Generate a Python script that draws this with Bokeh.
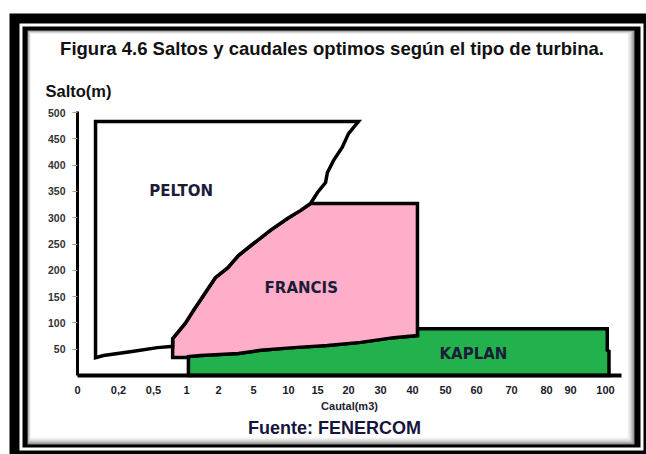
import numpy as np
from bokeh.plotting import figure
from bokeh.models import Range1d, FixedTicker, ColumnDataSource
from bokeh.core.properties import value
from bokeh.embed import file_html
from bokeh.resources import INLINE

# ---------------- texts ----------------
title_text = "Figura 4.6 Saltos y caudales optimos según el tipo de turbina."
y_title = "Salto(m)"
x_title = "Cautal(m3)"
source_text = "Fuente: FENERCOM"
region_names = ["PELTON", "FRANCIS", "KAPLAN"]

# ---------------- axes (non-uniform caudal axis) ----------------
x_tick_vals = [0, 0.2, 0.5, 1, 2, 5, 10, 15, 20, 30, 40, 50, 60, 70, 80, 90, 100]
x_tick_labels = ["0", "0,2", "0,5", "1", "2", "5", "10", "15", "20", "30",
                 "40", "50", "60", "70", "80", "90", "100"]
x_tick_pos = [0, 41, 76, 109, 141, 176, 211, 240, 271, 303, 335, 368, 399, 434, 469, 493, 528]
y_ticks = [50, 100, 150, 200, 250, 300, 350, 400, 450, 500]
x_axis_end = 544
y_axis_end = 502

# ---------------- data: caudal (m3/s) and salto (m) ----------------
# boundary Pelton / Francis (from top right downward)
pf_q = [23.1, 20.0, 19.0, 17.6, 16.6, 16.3, 15.0, 13.8, 12.1, 9.9, 7.4, 5.0, 3.7, 2.8, 1.9, 1.53, 1.22, 0.98, 0.79]
pf_h = [483, 460, 434, 409, 386, 367, 348, 327, 314, 299, 276, 251, 228, 205, 186, 152, 124, 99, 70]
# Pelton lower edge (right to left)
pel_bot_q = [0.79, 0.76, 0.56, 0.33, 0.127, 0.088]
pel_bot_h = [55, 55, 53, 46, 38, 34]
pel_top_h = 483
# boundary Francis / Kaplan (left to right)
fk_q = [1.06, 1.44, 3.7, 6.0, 10.9, 16.6, 23.8, 34.1, 41.5]
fk_h = [36, 38, 42, 48, 53, 57, 63, 72, 76]
fra_top_h = 327
fra_bot_h = 34
kap_top_h = 89
kap_right_q = [100.5, 101.0]
kap_notch_h = [48, 46]

label_q = [0.92, 12.2, 59.0]
label_h = [350, 167, 40]

colors = {"PELTON": "#ffffff", "FRANCIS": "#ffaec9", "KAPLAN": "#22b14c"}


def xpos(q):
    q = np.asarray(q, dtype=float)
    out = np.interp(q, x_tick_vals, x_tick_pos)
    slope = (x_tick_pos[-1] - x_tick_pos[-2]) / (x_tick_vals[-1] - x_tick_vals[-2])
    out = np.where(q > x_tick_vals[-1], x_tick_pos[-1] + (q - x_tick_vals[-1]) * slope, out)
    return out


# polygons
pel_q = [pel_bot_q[-1], pf_q[0]] + pf_q[1:] + [pel_bot_q[0]] + pel_bot_q[1:]
pel_h = [pel_top_h, pel_top_h] + pf_h[1:] + [pel_bot_h[0]] + pel_bot_h[1:]

i_top = pf_h.index(fra_top_h)
fra_q = [pf_q[i_top], fk_q[-1], fk_q[-1]] + fk_q[::-1][1:] + [fk_q[0], pf_q[-1], pf_q[-1]] + pf_q[-2:i_top:-1]
fra_h = [fra_top_h, fra_top_h, fk_h[-1]] + fk_h[::-1][1:] + [fra_bot_h, fra_bot_h, pf_h[-1]] + pf_h[-2:i_top:-1]

kap_q = [fk_q[0]] + fk_q + [fk_q[-1], kap_right_q[0], kap_right_q[0], kap_right_q[1], kap_right_q[1]]
kap_h = [0] + fk_h + [kap_top_h, kap_top_h, kap_notch_h[0], kap_notch_h[1], 0]

# ---------------- figure: the plot frame spans the whole canvas ----------------
W, H = 646, 454
ORX, ORY = 77, 375             # canvas pixel of the axes origin
KY = y_axis_end / 264.0        # metres per pixel
x_range = Range1d(-ORX, W - ORX)
y_range = Range1d(-(H - ORY) * KY, ORY * KY)

p = figure(width=W, height=H, x_range=x_range, y_range=y_range,
           output_backend="svg", toolbar_location=None, title=None,
           min_border=0)
p.grid.visible = False
p.outline_line_color = None
p.background_fill_color = "white"
p.border_fill_color = "white"


def cx(px):
    return np.asarray(px, dtype=float) - ORX


def cy(py):
    return (ORY - np.asarray(py, dtype=float)) * KY


# decorative picture frame (canvas pixels)
frame_l = [9, 19, 22]
frame_r = [700, 643, 640]
frame_t = [13, 23, 26]
frame_b = [700, 450, 447]
frame_c = ["black", "white", "black"]
p.quad(left=cx(frame_l), right=cx(frame_r), top=cy(frame_t), bottom=cy(frame_b),
       fill_color=frame_c, line_color=None)
shades = ["#8a8a8a", "#a6a6a6", "#bdbdbd", "#d0d0d0", "#dfdfdf", "#ebebeb", "#f5f5f5", "white"]
n = len(shades)
idx = np.arange(n)
p.quad(left=cx(27 + 0.5 * idx), right=cx(634 - idx), top=cy(30 + 0.5 * idx), bottom=cy(444 - idx),
       fill_color=shades, line_color=None)

# regions
for name, qs, hs in [("KAPLAN", kap_q, kap_h), ("FRANCIS", fra_q, fra_h), ("PELTON", pel_q, pel_h)]:
    p.patch(xpos(qs), hs, fill_color=colors[name], line_color="black", line_width=3.5,
            line_join="miter")

src = ColumnDataSource(dict(x=xpos(label_q), y=label_h, t=region_names))
p.text(x="x", y="y", text="t", source=src, text_align="center", text_baseline="middle",
       text_font=value("DejaVu Sans"), text_font_style="bold", text_font_size="15px",
       text_color="#1c1c38")

# axes drawn at the origin
xa = p.xaxis[0]
xa.fixed_location = 0
xa.bounds = (0, x_axis_end)
xa.ticker = FixedTicker(ticks=x_tick_pos)
xa.major_label_overrides = {pos: lab for pos, lab in zip(x_tick_pos, x_tick_labels)}
xa.axis_line_width = 4
xa.axis_line_color = "black"
xa.major_tick_line_color = None
xa.minor_tick_line_color = None
xa.major_tick_out = 0
xa.major_tick_in = 0
xa.major_label_standoff = 10
xa.major_label_text_font = "Liberation Sans"
xa.major_label_text_font_style = "bold"
xa.major_label_text_font_size = "11px"
xa.major_label_text_color = "#1a1a2a"
xa.axis_label = x_title
xa.axis_label_standoff = 3
xa.axis_label_text_font = "Liberation Sans"
xa.axis_label_text_font_style = "bold"
xa.axis_label_text_font_size = "11px"
xa.axis_label_text_color = "#222233"

ya = p.yaxis[0]
ya.fixed_location = 0
ya.bounds = (0, y_axis_end)
ya.ticker = FixedTicker(ticks=y_ticks)
ya.axis_line_width = 3
ya.axis_line_color = "black"
ya.major_tick_line_color = "#9a9a9a"
ya.major_tick_out = 5
ya.major_tick_in = 0
ya.minor_tick_line_color = None
ya.major_label_standoff = 7
ya.major_label_text_font = "Liberation Sans"
ya.major_label_text_font_style = "bold"
ya.major_label_text_font_size = "10.5px"
ya.major_label_text_color = "#333333"

# texts around the chart
p.text(x=cx([331.5]), y=cy([48]), text=[title_text], text_align="center", text_baseline="middle",
       text_font=value("Liberation Sans"), text_font_style="bold", text_font_size="18.5px",
       text_color="#111111")
p.text(x=cx([45]), y=cy([90]), text=[y_title], text_align="left", text_baseline="middle",
       text_font=value("Liberation Sans"), text_font_style="bold", text_font_size="16.5px",
       text_color="#111111")
p.text(x=cx([334]), y=cy([427]), text=[source_text], text_align="center", text_baseline="middle",
       text_font=value("Liberation Sans"), text_font_style="bold", text_font_size="18px",
       text_color="#14143c")

open("out.html", "w").write(file_html(p, INLINE))
